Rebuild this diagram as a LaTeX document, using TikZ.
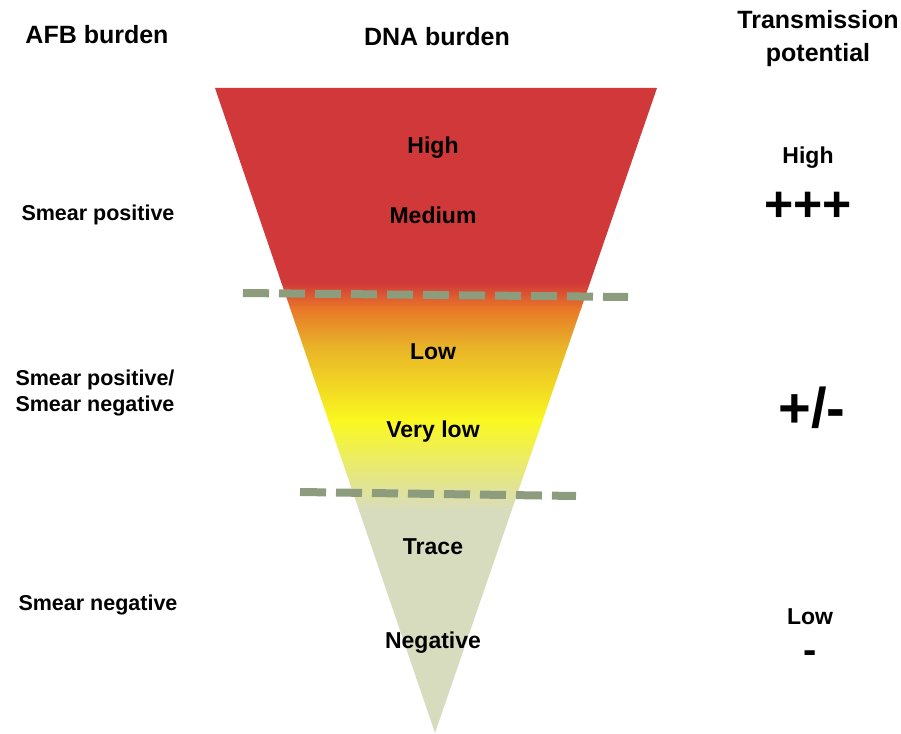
\documentclass[tikz,border=0pt]{standalone}
\usepackage{fontspec}
\setmainfont{Liberation Sans}
\definecolor{burdenred}{RGB}{208,56,58}
\definecolor{burdenorange}{RGB}{232,118,40}
\definecolor{burdengold}{RGB}{232,178,40}
\definecolor{burdenyellow}{RGB}{250,248,32}
\definecolor{burdenpale}{RGB}{216,220,190}
\definecolor{cutline}{RGB}{142,156,126}

\begin{document}
\begin{tikzpicture}[x=1pt, y=-1pt,
  head/.style={font=\bfseries\fontsize{25}{33}\selectfont, align=center},
  afb/.style={font=\bfseries\fontsize{21.5}{26}\selectfont, align=left},
  dna/.style={font=\bfseries\fontsize{23}{26}\selectfont},
  sign/.style={font=\bfseries\fontsize{50}{50}\selectfont},
  cut/.style={draw=cutline, line width=8pt, dash pattern=on 26pt off 10pt}]
\useasboundingbox (0,0) rectangle (901,733);

% funnel corners
\coordinate (tl) at (215,88);
\coordinate (tr) at (657,88);
\coordinate (apex) at (435,733);

% funnel fill
\begin{scope}
\clip (tl) -- (tr) -- (apex) -- cycle;
\fill[burdenred] (0,80) rectangle (901,283);
\shade[top color=burdenred, bottom color=burdenorange] (0,282) rectangle (901,308);
\shade[top color=burdenorange, bottom color=burdengold] (0,307) rectangle (901,346);
\shade[top color=burdengold, bottom color=burdenyellow] (0,345) rectangle (901,421);
\shade[top color=burdenyellow, bottom color=burdenpale] (0,420) rectangle (901,511);
\fill[burdenpale] (0,510) rectangle (901,740);
\end{scope}

% cut lines
\coordinate (c1a) at (243,293);
\coordinate (c1b) at (628,297);
\coordinate (c2a) at (300,492);
\coordinate (c2b) at (576,496);
\draw[cut] (c1a) -- (c1b);
\draw[cut] (c2a) -- (c2b);

% headers
\node[head] (afbhead) at (97,35) {AFB burden};
\node[head] (dnahead) at (437,37) {DNA burden};
\node[head] (txhead) at (818,39) {Transmission\\potential};

% DNA burden levels
\node[dna] (high) at (433,148) {High};
\node[dna] (medium) at (433,215) {Medium};
\node[dna] (low) at (433,352) {Low};
\node[dna] (verylow) at (433,432) {Very low};
\node[dna] (trace) at (433,547) {Trace};
\node[dna] (negative) at (433,643) {Negative};

% AFB burden
\node[afb] (smpos) at (98,215) {Smear positive};
\node[afb, anchor=west] (smboth) at (12,393) {Smear positive/\\Smear negative};
\node[afb] (smneg) at (98,605) {Smear negative};

% transmission potential
\node[dna] (txhigh) at (808,158) {High};
\node[sign] (txplus) at (808,207) {+++};
\node[sign, font=\bfseries\fontsize{56}{56}\selectfont] (txmid) at (812,408) {+/-};
\node[dna] (txlow) at (810,617) {Low};
\node[sign, font=\bfseries\fontsize{40}{40}\selectfont, anchor=base,
  inner sep=0pt, text height=0.4em, text depth=0pt] (txminus) at (810,663) {-};
\end{tikzpicture}
\end{document}
